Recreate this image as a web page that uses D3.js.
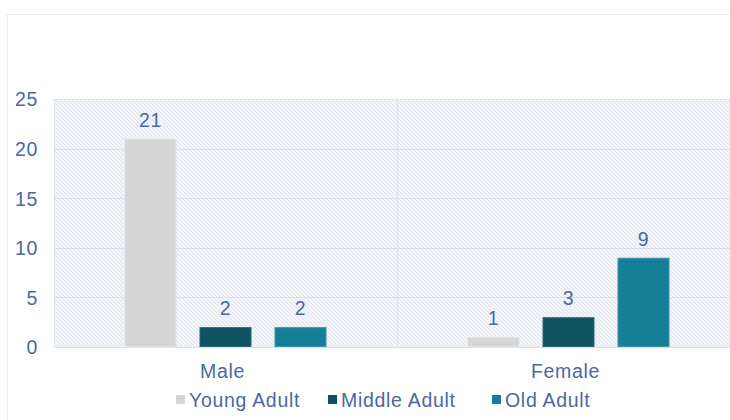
<!DOCTYPE html>
<html>
<head>
<meta charset="utf-8">
<script src="https://cdn.jsdelivr.net/npm/d3@7"></script>
<style>
  body { margin: 0; background: #fff; }
  svg text { font-family: "Liberation Sans", Arial, sans-serif; fill: #4a69a3; letter-spacing: 0.7px; }
</style>
</head>
<body>
<div id="svgDiv" style="width:730px;height:420px;"></div>
<script>
//chart data
var categories = ["Male", "Female"];
var seriesNames = ["Young Adult", "Middle Adult", "Old Adult"];
var youngAdult = [21, 1];
var middleAdult = [2, 3];
var oldAdult = [2, 9];
var yTicks = [0, 5, 10, 15, 20, 25];
var seriesColors = ["#d6d6d6", "#0f5262", "#167f98"];
var seriesStroke = ["#e2e2e2", "#2a6675", "#3a93a9"];

var svgWidth = 730, svgHeight = 420;
var plotLeft = 54, plotRight = 740, plotTop = 99, plotBottom = 347;
var fontSize = 19.5;

var svg = d3.select("#svgDiv")
    .append("svg")
    .attr("width", svgWidth)
    .attr("height", svgHeight);

//hatched background pattern
var defs = svg.append("defs");
var pat = defs.append("pattern")
    .attr("id", "hatch")
    .attr("patternUnits", "userSpaceOnUse")
    .attr("width", 4)
    .attr("height", 4);
pat.append("rect").attr("width", 4).attr("height", 4).attr("fill", "#f3f5f9");
pat.append("path")
    .attr("d", "M-1,-1 L5,5 M-1,3 L1,5 M3,-1 L5,1")
    .attr("stroke", "#dfe3ea")
    .attr("stroke-width", 1);

//outer chart frame
svg.append("rect")
    .attr("x", 7.5).attr("y", 14.5)
    .attr("width", 740).attr("height", 420)
    .attr("fill", "none")
    .attr("stroke", "#ebebeb");

var x = d3.scaleBand()
    .domain(categories)
    .range([plotLeft, plotRight]);

var xInner = d3.scaleBand()
    .domain(seriesNames)
    .range([0, x.bandwidth()])
    .paddingInner(0.307)
    .paddingOuter(0.94);

var y = d3.scaleLinear()
    .domain([0, 25])
    .range([plotBottom, plotTop]);

svg.append("rect")
    .attr("x", plotLeft).attr("y", plotTop)
    .attr("width", plotRight - plotLeft).attr("height", plotBottom - plotTop)
    .attr("fill", "url(#hatch)");

//gridlines
svg.append("g").selectAll("line")
    .data(yTicks)
    .enter().append("line")
    .attr("x1", plotLeft).attr("x2", plotRight)
    .attr("y1", function(d){ return Math.round(y(d)) + 0.5; })
    .attr("y2", function(d){ return Math.round(y(d)) + 0.5; })
    .attr("stroke", "#dbe0e9")
    .attr("stroke-width", 1.2);

//category dividers
svg.append("g").selectAll("line")
    .data(categories)
    .enter().append("line")
    .attr("x1", function(d){ return Math.round(x(d)) + 0.5; })
    .attr("x2", function(d){ return Math.round(x(d)) + 0.5; })
    .attr("y1", plotTop).attr("y2", plotBottom)
    .attr("stroke", "#dde2ea");

//y axis labels
var yAxis = d3.axisLeft(y).tickValues(yTicks).tickSize(0).tickPadding(0);
var yg = svg.append("g")
    .attr("transform", "translate(38,0)")
    .call(yAxis);
yg.select(".domain").remove();
yg.selectAll("text")
    .attr("font-size", fontSize)
    .attr("dy", "0.35em")
    .style("fill", "#4a69a3");

//x axis labels
var xAxis = d3.axisBottom(x).tickSize(0).tickPadding(0);
var xg = svg.append("g")
    .attr("transform", "translate(-3," + (plotBottom + 31) + ")")
    .call(xAxis);
xg.select(".domain").remove();
xg.selectAll("text")
    .attr("font-size", fontSize)
    .attr("dy", 0)
    .style("fill", "#4a69a3");

//bars
var rows = [];
categories.forEach(function(c, i){
    rows.push({cat: c, s: 0, v: youngAdult[i]});
    rows.push({cat: c, s: 1, v: middleAdult[i]});
    rows.push({cat: c, s: 2, v: oldAdult[i]});
});

svg.append("g").selectAll("rect")
    .data(rows)
    .enter().append("rect")
    .attr("x", function(d){ return x(d.cat) + xInner(seriesNames[d.s]) + 0.5; })
    .attr("y", function(d){ return y(d.v) + 0.5; })
    .attr("width", xInner.bandwidth() - 1)
    .attr("height", function(d){ return plotBottom - y(d.v) - 1; })
    .attr("fill", function(d){ return seriesColors[d.s]; })
    .attr("stroke", function(d){ return seriesStroke[d.s]; });

//value labels
svg.append("g").selectAll("text")
    .data(rows)
    .enter().append("text")
    .attr("x", function(d){ return x(d.cat) + xInner(seriesNames[d.s]) + xInner.bandwidth() / 2; })
    .attr("y", function(d){ return y(d.v) - 12; })
    .attr("text-anchor", "middle")
    .attr("font-size", fontSize)
    .text(function(d){ return d.v; });

//legend
var legendX = [176, 328, 492];
var legend = svg.append("g").selectAll("g")
    .data(seriesNames)
    .enter().append("g")
    .attr("transform", function(d, i){ return "translate(" + legendX[i] + ",400)"; });
legend.append("rect")
    .attr("x", 0).attr("y", -5)
    .attr("width", 9).attr("height", 9)
    .attr("fill", function(d, i){ return seriesColors[i]; });
legend.append("text")
    .attr("x", 13).attr("y", 0)
    .attr("dy", "0.35em")
    .attr("font-size", fontSize)
    .text(function(d){ return d; });
</script>
</body>
</html>
